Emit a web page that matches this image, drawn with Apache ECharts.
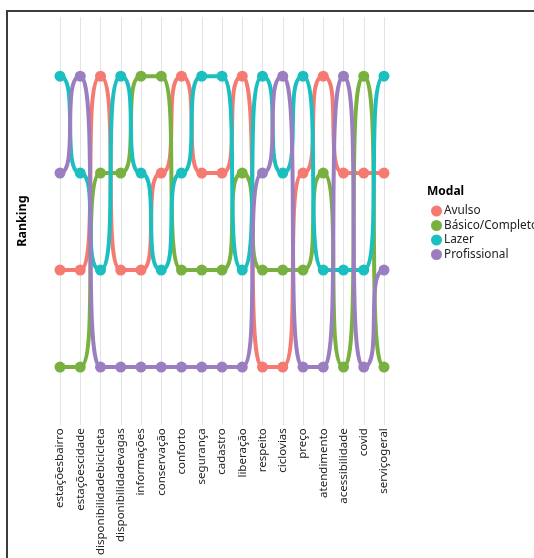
<!DOCTYPE html>
<html>
<head>
<meta charset="utf-8">
<script src="https://cdn.jsdelivr.net/npm/echarts@6/dist/echarts.min.js"></script>
<style>
html,body{margin:0;padding:0;background:#fff;}
#chart{width:534px;height:558px;}
</style>
</head>
<body>
<div id="chart"></div>
<script>
const categories = ['estaçõesbairro','estaçõescidade','disponibilidadebicicleta','disponibilidadevagas','informações','conservação','conforto','segurança','cadastro','liberação','respeito','ciclovias','preço','atendimento','acessibilidade','covid','serviçogeral'];
const seriesNames = ['Avulso','Básico/Completo','Lazer','Profissional'];
const avulso =       [3,3,1,3,3,2,1,2,2,1,4,4,2,1,2,2,2];
const basico =       [4,4,2,2,1,1,3,3,3,2,3,3,3,2,4,1,4];
const lazer =        [1,2,3,1,2,3,2,1,1,3,1,2,1,3,3,3,1];
const profissional = [2,1,4,4,4,4,4,4,4,4,2,1,4,4,1,4,3];
const colors = ['#F47A72','#78B140','#1BBFC0','#9A7EC0'];
const values = [avulso, basico, lazer, profissional];

const FONT = 'Noto Sans';

// segments between consecutive categories: [index, rankFrom, rankTo]
function segments(arr) {
  const out = [];
  for (let i = 0; i < arr.length - 1; i++) out.push([i, arr[i], arr[i + 1]]);
  return out;
}

function bumpRender(color) {
  return function (params, api) {
    const i = api.value(0);
    const p0 = api.coord([i, api.value(1)]);
    const p1 = api.coord([i + 1, api.value(2)]);
    const dx = p1[0] - p0[0];
    const k = 0.95;
    return {
      type: 'bezierCurve',
      shape: {
        x1: p0[0], y1: p0[1],
        x2: p1[0], y2: p1[1],
        cpx1: p0[0] + dx * k, cpy1: p0[1],
        cpx2: p1[0] - dx * k, cpy2: p1[1]
      },
      style: { stroke: color, lineWidth: 4, fill: null, lineCap: 'round' }
    };
  };
}

const series = [];
seriesNames.forEach((n, i) => {
  series.push({
    name: n,
    type: 'custom',
    data: segments(values[i]),
    encode: { x: 0, y: [1, 2] },
    renderItem: bumpRender(colors[i]),
    itemStyle: { color: colors[i] },
    clip: false,
    z: 2
  });
});
seriesNames.forEach((n, i) => {
  series.push({
    name: n,
    type: 'scatter',
    data: values[i],
    symbol: 'circle',
    symbolSize: 11,
    clip: false,
    itemStyle: { color: colors[i], opacity: 1 },
    z: 3
  });
});

const chart = echarts.init(document.getElementById('chart'));
chart.setOption({
  animation: false,
  textStyle: { fontFamily: FONT },
  grid: { left: 60, right: 150, top: 17, bottom: 131 },
  xAxis: {
    type: 'category',
    data: categories,
    boundaryGap: false,
    axisLine: { show: false },
    axisTick: { show: false },
    axisLabel: { rotate: 90, fontSize: 11.5, color: '#222', fontFamily: FONT, margin: 3, interval: 0 },
    splitLine: { show: true, lineStyle: { color: '#e3e3e3', width: 1 } }
  },
  yAxis: {
    type: 'value',
    inverse: true,
    min: 0.39,
    max: 4.6,
    axisLine: { show: false },
    axisTick: { show: false },
    axisLabel: { show: false },
    splitLine: { show: false },
    name: 'Ranking',
    nameLocation: 'middle',
    nameRotate: 90,
    nameGap: 31,
    nameTextStyle: { fontWeight: 'bold', fontSize: 12.5, color: '#000', fontFamily: FONT }
  },
  legend: {
    orient: 'vertical',
    left: 426,
    top: 200,
    itemWidth: 11,
    itemHeight: 11,
    itemGap: 2.5,
    icon: 'circle',
    textStyle: { fontSize: 11.8, color: '#222', fontFamily: FONT, padding: [0,0,0,-3] },
    data: seriesNames
  },
  graphic: [
    { type: 'text', left: 427, top: 186, style: { text: 'Modal', font: 'bold 12px "' + FONT + '"', fill: '#000' } },
    { type: 'rect', shape: { x: 7, y: 11, width: 700, height: 700 }, style: { fill: 'none', stroke: '#3c3c3c', lineWidth: 2 }, silent: true }
  ],
  series: series
});
</script>
</body>
</html>
